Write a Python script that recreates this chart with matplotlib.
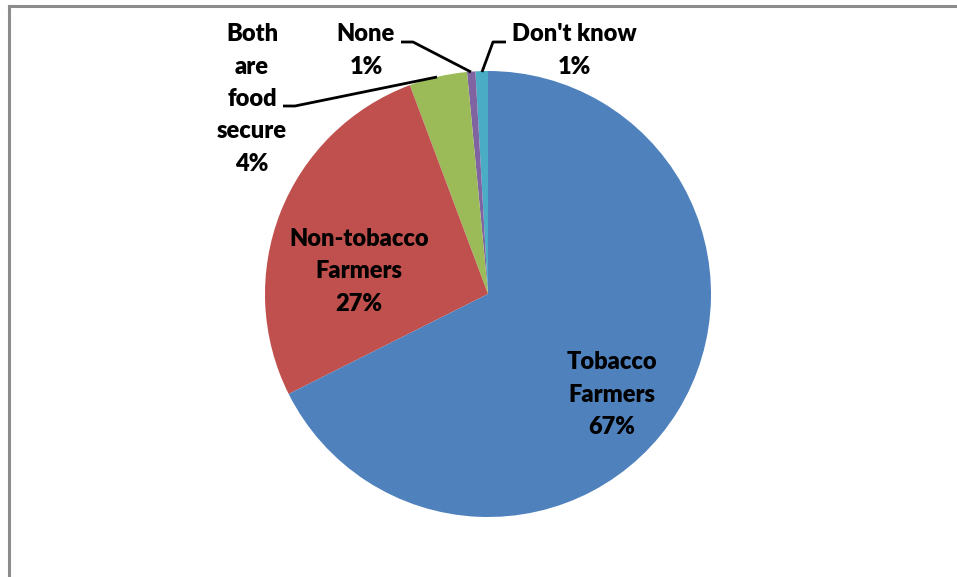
import matplotlib
matplotlib.use("Agg")
import matplotlib.pyplot as plt
from matplotlib.lines import Line2D

# Data (percent shares, counter-clockwise from top)
categories = ["Don't know", "None", "Both are food secure", "Non-tobacco Farmers", "Tobacco Farmers"]
values = [0.9, 0.6, 4.2, 26.7, 67.6]
shown_pct = ["1%", "1%", "4%", "27%", "67%"]
label_lines = [["Don't know"], ["None"], ["Both", "are", "food", "secure"],
               ["Non-tobacco", "Farmers"], ["Tobacco", "Farmers"]]
colors = ["#4BACC6", "#8064A2", "#9BBB59", "#C0504D", "#4F81BD"]

W, H = 957, 577
fig = plt.figure(figsize=(W / 100, H / 100), dpi=100)
ax = fig.add_axes([0, 0, 1, 1])

cx, cy, r = 488, H - 294, 223
ax.pie(values, colors=colors, startangle=90, counterclock=True,
       center=(cx, cy), radius=r, frame=True,
       wedgeprops=dict(linewidth=0))
ax.set_xlim(0, W)
ax.set_ylim(0, H)
ax.set_aspect("equal")
ax.axis("off")

# label centers (pixel layout) and leader lines
label_pos = [(574, 34), (366, 34), (252, 34), (359, 239), (612, 362)]
line_pitch = 32.5
font = dict(family=["Lato", "DejaVu Sans"], weight="heavy", fontsize=17, color="black",
            ha="center", va="center")
for lines, pct, (lx, ly) in zip(label_lines, shown_pct, label_pos):
    for i, t in enumerate(lines + [pct]):
        ax.text(lx, H - (ly + i * line_pitch), t, **font)

leaders = [
    [(506, 42), (493, 42), (482, 72)],
    [(401, 42), (413, 42), (471, 72)],
    [(283, 106), (295, 106), (437, 77)],
]
for pts in leaders:
    xs = [p[0] for p in pts]
    ys = [H - p[1] for p in pts]
    ax.plot(xs, ys, color="black", linewidth=2.0, solid_capstyle="butt")

# chart frame (left and top edges)
fig.add_artist(Line2D([9 / W, 9 / W], [0, 1 - 6 / H], transform=fig.transFigure,
                      color="#8c8c8c", linewidth=2.2))
fig.add_artist(Line2D([9 / W, 1], [1 - 6 / H, 1 - 6 / H], transform=fig.transFigure,
                      color="#8c8c8c", linewidth=2.2))

fig.savefig("out.png", dpi=100, facecolor="white")
